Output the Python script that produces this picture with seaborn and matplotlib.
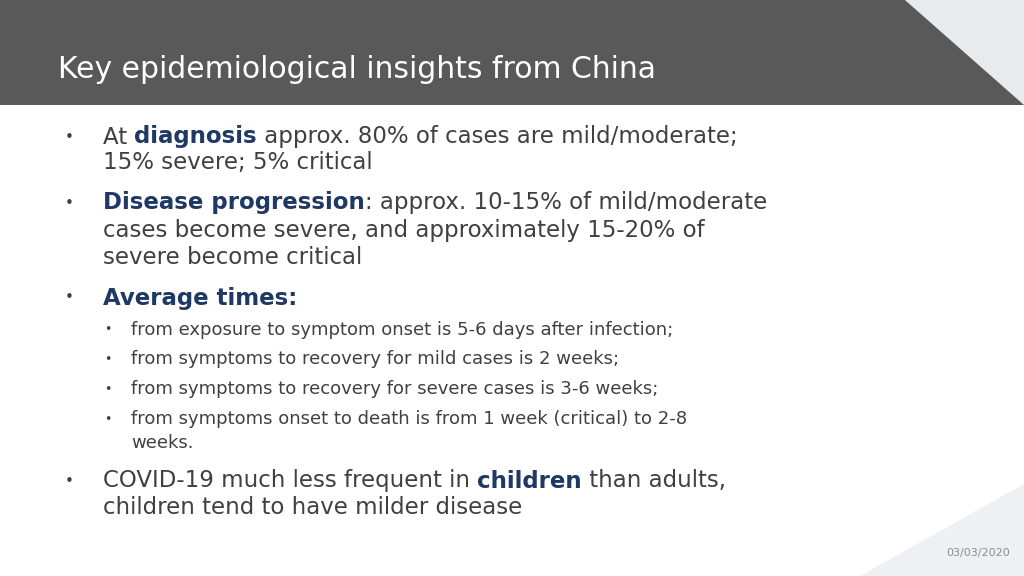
import matplotlib
matplotlib.use("Agg")
import matplotlib.pyplot as plt
import seaborn as sns
from matplotlib.patches import Polygon

sns.set_theme(style="white", font="DejaVu Sans")

title = "Key epidemiological insights from China"
date_label = "03/03/2020"
main_lines = [
    (137, True, [("At ", False), ("diagnosis", True), (" approx. 80% of cases are mild/moderate;", False)]),
    (162, False, [("15% severe; 5% critical", False)]),
    (203, True, [("Disease progression", True), (": approx. 10-15% of mild/moderate", False)]),
    (231, False, [("cases become severe, and approximately 15-20% of", False)]),
    (258, False, [("severe become critical", False)]),
    (298, True, [("Average times:", True)]),
    (481, True, [("COVID-19 much less frequent in ", False), ("children", True), (" than adults,", False)]),
    (507, False, [("children tend to have milder disease", False)]),
]
sub_lines = [
    (330, True, "from exposure to symptom onset is 5-6 days after infection;"),
    (359, True, "from symptoms to recovery for mild cases is 2 weeks;"),
    (389, True, "from symptoms to recovery for severe cases is 3-6 weeks;"),
    (419, True, "from symptoms onset to death is from 1 week (critical) to 2-8"),
    (443, False, "weeks."),
]

fig = plt.figure(figsize=(10.24, 5.76), dpi=100)
ax = fig.add_axes([0, 0, 1, 1])
ax.set_xlim(0, 1024)
ax.set_ylim(576, 0)
ax.axis("off")

ax.add_patch(Polygon([(905, 0), (1024, 0), (1024, 105)], closed=True, color="#e7ebee", lw=0))
ax.add_patch(Polygon([(0, 0), (905, 0), (1024, 105), (0, 105)], closed=True, color="#595959", lw=0))
ax.add_patch(Polygon([(860, 576), (1024, 484), (1024, 576)], closed=True, color="#eef1f3", lw=0))

ax.text(58, 70, title, color="white", fontsize=21.5, va="center", ha="left")
ax.text(1010, 553, date_label, color="#8c8c8c", fontsize=8, va="center", ha="right")

dark = "#404040"
navy = "#1f3864"
fs = 16.5
for y, bullet, parts in main_lines:
    if bullet:
        ax.text(65, y, "•", color=dark, fontsize=11, va="center", ha="left")
    prev = None
    for txt, bold in parts:
        kw = dict(color=navy if bold else dark, fontsize=fs,
                  fontweight="bold" if bold else "normal")
        if prev is None:
            prev = ax.text(103, y, txt, va="center", ha="left", **kw)
        else:
            prev = ax.annotate(txt, xy=(1, 0), xycoords=prev, va="bottom", ha="left", **kw)

for y, bullet, txt in sub_lines:
    if bullet:
        ax.text(104, y, "•", color=dark, fontsize=9, va="center", ha="left")
    ax.text(131, y, txt, color=dark, fontsize=13, va="center", ha="left")

fig.savefig("out.png", dpi=100)
